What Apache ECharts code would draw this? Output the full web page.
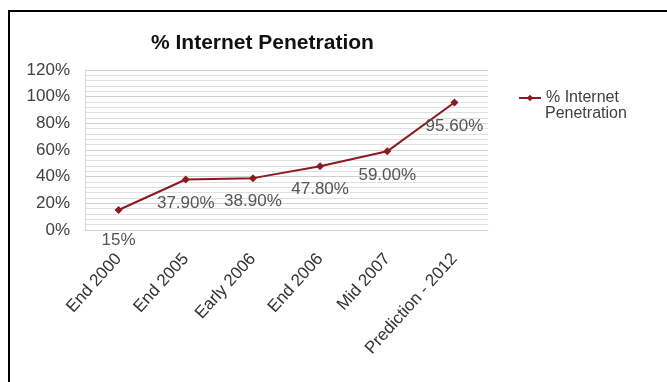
<!DOCTYPE html>
<html>
<head>
<meta charset="utf-8">
<script src="https://cdn.jsdelivr.net/npm/echarts@6/dist/echarts.min.js"></script>
<style>
html,body{margin:0;padding:0;background:#fff;}
#c{width:667px;height:382px;}
</style>
</head>
<body>
<div id="c"></div>
<script>
var categories = ['End 2000', 'End 2005', 'Early 2006', 'End 2006', 'Mid 2007', 'Prediction - 2012'];
var values = [15, 37.9, 38.9, 47.8, 59.0, 95.6];
var valueLabels = ['15%', '37.90%', '38.90%', '47.80%', '59.00%', '95.60%'];
var yTicks = [0, 20, 40, 60, 80, 100, 120];
var seriesName = '% Internet Penetration';
var legendLines = ['% Internet', 'Penetration'];

var FONT = '"Liberation Sans", Arial, sans-serif';
var chart = echarts.init(document.getElementById('c'), null, {renderer: 'canvas'});
chart.setOption({
  animation: false,
  backgroundColor: '#ffffff',
  title: {
    text: '% Internet Penetration',
    left: 151,
    top: 33,
    padding: 0,
    textStyle: {fontFamily: FONT, fontSize: 21, fontWeight: 'bold', color: '#111'}
  },
  legend: {
    data: [seriesName],
    left: 518,
    top: 90,
    padding: 0,
    itemWidth: 22,
    itemHeight: 8,
    itemGap: 2,
    formatter: function () { return legendLines[0]; },
    textStyle: {fontFamily: FONT, fontSize: 16, color: '#404040'}
  },
  grid: {left: 85, right: 179, top: 70, bottom: 152},
  xAxis: {
    type: 'category',
    data: categories,
    boundaryGap: true,
    axisLine: {show: true, lineStyle: {color: '#d0d0d0', width: 1}},
    axisTick: {show: false},
    axisLabel: {rotate: 48, margin: 26, fontFamily: FONT, fontSize: 17, color: '#333', interval: 0}
  },
  yAxis: {
    type: 'value',
    min: yTicks[0],
    max: yTicks[yTicks.length - 1],
    interval: yTicks[1] - yTicks[0],
    axisLine: {show: true, lineStyle: {color: '#d8d8d8'}},
    axisTick: {show: false},
    axisLabel: {margin: 15, fontFamily: FONT, fontSize: 17, color: '#404040', formatter: '{value}%'},
    splitLine: {show: true, lineStyle: {color: '#cfcfcf', width: 1}},
    minorTick: {show: false, splitNumber: 5},
    minorSplitLine: {show: true, lineStyle: {color: '#e0e0e0', width: 1}}
  },
  series: [{
    name: seriesName,
    type: 'line',
    data: values,
    symbol: 'diamond',
    symbolSize: 8,
    color: '#8a1a1f',
    lineStyle: {color: '#8a1a1f', width: 2},
    itemStyle: {color: '#8a1a1f'},
    label: {
      show: true,
      position: 'bottom',
      distance: 11,
      fontFamily: FONT,
      fontSize: 17,
      color: '#555',
      formatter: function (p) { return valueLabels[p.dataIndex]; }
    }
  }],
  labelLayout: function (params) {
    if (params.dataIndex === 0) { return {dy: 7}; }
  },
  graphic: [{
    type: 'text',
    left: 545,
    top: 106,
    silent: true,
    style: {text: legendLines[1], font: '16px ' + FONT, fill: '#404040'}
  }, {
    type: 'rect',
    shape: {x: 9, y: 11, width: 700, height: 400},
    style: {fill: 'none', stroke: '#000', lineWidth: 2},
    silent: true
  }]
});
</script>
</body>
</html>
